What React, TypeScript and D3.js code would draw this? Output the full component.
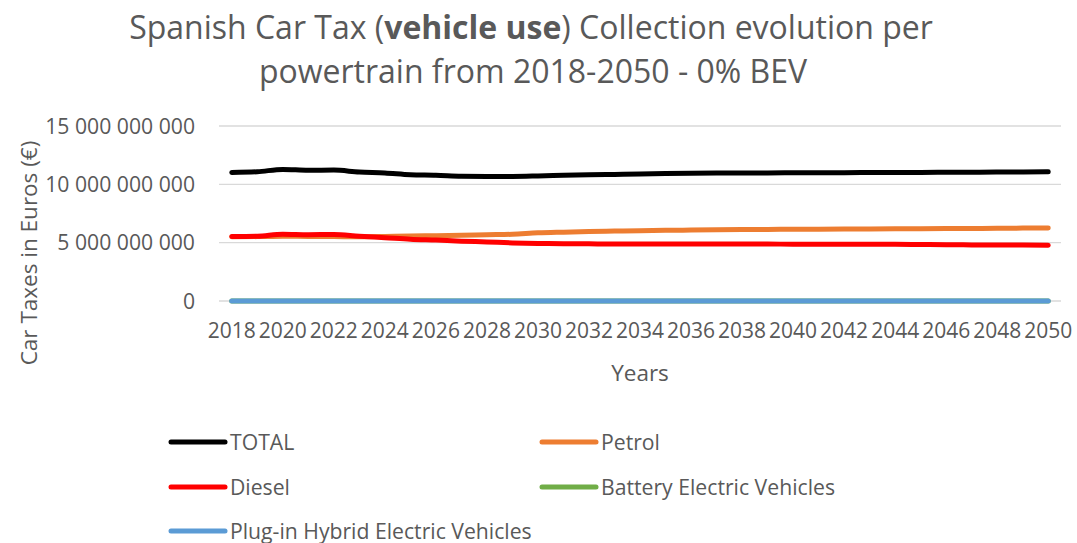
import React from "react";
import * as d3 from "d3";

const years: number[] = [
  2018, 2019, 2020, 2021, 2022, 2023, 2024, 2025, 2026, 2027, 2028, 2029, 2030,
  2031, 2032, 2033, 2034, 2035, 2036, 2037, 2038, 2039, 2040, 2041, 2042, 2043,
  2044, 2045, 2046, 2047, 2048, 2049, 2050,
];

// values in billions of euros
const total: number[] = [
  11.02, 11.08, 11.28, 11.2, 11.22, 11.05, 10.98, 10.82, 10.78, 10.7, 10.68, 10.68, 10.72,
  10.78, 10.82, 10.85, 10.88, 10.92, 10.95, 10.97, 10.98, 10.98, 10.99, 11.0, 11.0, 11.01,
  11.02, 11.02, 11.03, 11.04, 11.05, 11.05, 11.07,
];
const petrol: number[] = [
  5.5, 5.52, 5.56, 5.53, 5.52, 5.5, 5.53, 5.58, 5.6, 5.63, 5.68, 5.72, 5.84,
  5.9, 5.95, 5.99, 6.03, 6.06, 6.08, 6.1, 6.12, 6.13, 6.15, 6.16, 6.17, 6.18,
  6.19, 6.2, 6.21, 6.22, 6.23, 6.25, 6.26,
];
const diesel: number[] = [
  5.52, 5.55, 5.72, 5.68, 5.7, 5.55, 5.43, 5.3, 5.22, 5.13, 5.06, 4.98, 4.93,
  4.91, 4.9, 4.89, 4.89, 4.89, 4.89, 4.89, 4.88, 4.88, 4.87, 4.87, 4.87, 4.86,
  4.86, 4.84, 4.82, 4.81, 4.8, 4.79, 4.78,
];
const bev: number[] = [
  0, 0, 0, 0, 0, 0, 0, 0, 0, 0, 0, 0, 0, 0, 0, 0, 0, 0, 0, 0, 0, 0, 0, 0, 0, 0, 0, 0, 0, 0, 0, 0, 0,
];
const phev: number[] = [
  0, 0, 0, 0, 0, 0, 0, 0, 0, 0, 0, 0, 0, 0, 0, 0, 0, 0, 0, 0, 0, 0, 0, 0, 0, 0, 0, 0, 0, 0, 0, 0, 0,
];

const yTicks: number[] = [0, 5e9, 10e9, 15e9];
const xTickYears: number[] = [
  2018, 2020, 2022, 2024, 2026, 2028, 2030, 2032, 2034, 2036, 2038, 2040, 2042, 2044, 2046, 2048, 2050,
];

const seriesNames: string[] = [
  "TOTAL",
  "Petrol",
  "Diesel",
  "Battery Electric Vehicles",
  "Plug-in Hybrid Electric Vehicles",
];
const seriesColors: string[] = ["#000000", "#ED7D31", "#FF0000", "#70AD47", "#5B9BD5"];
const seriesData: number[][] = [total, petrol, diesel, bev, phev];

const W = 1077;
const H = 543;
const FONT = "'Open Sans', sans-serif";
const TEXT = "#595959";

export default function App() {
  const x = d3.scaleBand<number>().domain(years).range([219, 1061]).padding(0);
  const cx = (yr: number) => (x(yr) as number) + x.bandwidth() / 2;
  const y = d3.scaleLinear().domain([0, 15e9]).range([301, 126]);
  const fmt = d3.formatLocale({ thousands: " ", grouping: [3], decimal: ",", currency: ["", "€"] }).format(",");

  const line = d3
    .line<number>()
    .x((_, i) => cx(years[i]))
    .y((v) => y(v * 1e9))
    .curve(d3.curveMonotoneX);

  const legendPos = [
    { lx: 171, ly: 442 },
    { lx: 542, ly: 442 },
    { lx: 171, ly: 487 },
    { lx: 542, ly: 487 },
    { lx: 171, ly: 531 },
  ];

  return (
    <svg
      width={W}
      height={H}
      style={{ position: "absolute", left: 0, top: 0, background: "#fff", display: "block" }}
      fontFamily={FONT}
    >
      <rect x={0} y={0} width={W} height={H} fill="#fff" />
      {/* title */}
      <text x={531} y={39} textAnchor="middle" fontSize={32} fill={TEXT}>
        Spanish Car Tax (<tspan fontWeight="bold">vehicle use</tspan>) Collection evolution per
      </text>
      <text x={533} y={83} textAnchor="middle" fontSize={32} fill={TEXT}>
        powertrain from 2018-2050 - 0% BEV
      </text>

      {/* gridlines */}
      {yTicks.map((t) => (
        <line key={"g" + t} x1={219} x2={1061} y1={y(t)} y2={y(t)} stroke="#d9d9d9" strokeWidth={1.3} />
      ))}

      {/* y tick labels */}
      {yTicks.map((t) => (
        <text key={"yl" + t} x={195} y={y(t) + 7.5} textAnchor="end" fontSize={21.2} fill={TEXT}>
          {fmt(t)}
        </text>
      ))}

      {/* x tick labels */}
      {xTickYears.map((yr) => (
        <text key={"xl" + yr} x={cx(yr)} y={338} textAnchor="middle" fontSize={21} fill={TEXT}>
          {yr}
        </text>
      ))}

      {/* axis titles */}
      <text x={640} y={381} textAnchor="middle" fontSize={22.5} fill={TEXT}>
        Years
      </text>
      <text
        transform={`translate(37,253) rotate(-90)`}
        textAnchor="middle"
        fontSize={22.5}
        fill={TEXT}
      >
        Car Taxes in Euros (€)
      </text>

      {/* series */}
      {seriesData.map((d, i) => (
        <path
          key={"s" + i}
          d={line(d) || ""}
          fill="none"
          stroke={seriesColors[i]}
          strokeWidth={5}
          strokeLinecap="round"
          strokeLinejoin="round"
        />
      ))}

      {/* legend */}
      {seriesNames.map((n, i) => (
        <g key={"lg" + i}>
          <line
            x1={legendPos[i].lx}
            x2={legendPos[i].lx + 54}
            y1={legendPos[i].ly}
            y2={legendPos[i].ly}
            stroke={seriesColors[i]}
            strokeWidth={5}
            strokeLinecap="round"
          />
          <text x={legendPos[i].lx + 59} y={legendPos[i].ly + 7.5} fontSize={21.2} fill={TEXT}>
            {n}
          </text>
        </g>
      ))}
    </svg>
  );
}
